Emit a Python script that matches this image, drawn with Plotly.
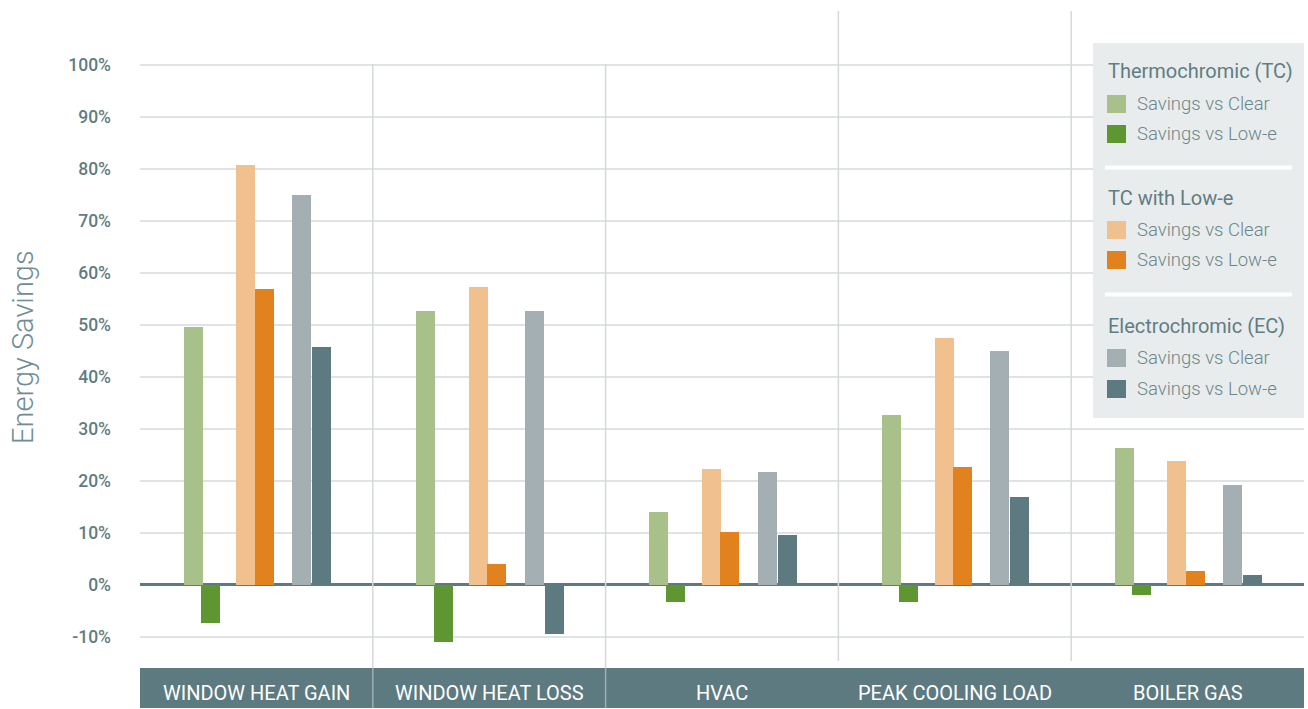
import plotly.graph_objects as go

# ---------------- data ----------------
categories = ["WINDOW HEAT GAIN", "WINDOW HEAT LOSS", "HVAC", "PEAK COOLING LOAD", "BOILER GAS"]

tc_vs_clear = [49.6, 52.6, 14.0, 32.7, 26.3]
tc_vs_lowe = [-7.3, -10.9, -3.3, -3.3, -1.9]
tcle_vs_clear = [80.7, 57.3, 22.3, 47.5, 23.8]
tcle_vs_lowe = [56.9, 4.0, 10.2, 22.7, 2.7]
ec_vs_clear = [74.9, 52.6, 21.7, 45.0, 19.2]
ec_vs_lowe = [45.7, -9.4, 9.6, 16.9, 1.9]

group_titles = ["Thermochromic (TC)", "TC with Low-e", "Electrochromic (EC)"]
item_names = ["Savings vs Clear", "Savings vs Low-e"]

tick_vals = [-10, 0, 10, 20, 30, 40, 50, 60, 70, 80, 90, 100]
tick_text = ["-10%", "0%", "10%", "20%", "30%", "40%", "50%", "60%", "70%", "80%", "90%", "100%"]

y_title = "Energy Savings"

# ---------------- styles ----------------
series = [
    (tc_vs_clear, "#a8c18b", -0.313),
    (tc_vs_lowe, "#5e9732", -0.239),
    (tcle_vs_clear, "#f0c18e", -0.087),
    (tcle_vs_lowe, "#e1821e", -0.008),
    (ec_vs_clear, "#a3afb3", 0.153),
    (ec_vs_lowe, "#5d7a80", 0.239),
]
BAR_W = 0.0816
FONT = "Roboto, 'Open Sans', sans-serif"
SLATE = "#5d7a80"
TEXT_DARK = "#5f7d83"
TEXT_LIGHT = "#6b878c"

W, H = 1308, 709
ML, MR, MT, MB = 140, 4, 11, 41
PW = W - ML - MR
PH = H - MT - MB


def px(x):
    return (x - ML) / PW


def py(y):
    return (H - MB - y) / PH


fig = go.Figure()
for vals, color, off in series:
    fig.add_trace(go.Bar(
        x=categories, y=vals, width=BAR_W, offset=off,
        marker=dict(color=color, line=dict(width=0)),
        showlegend=False,
    ))

shapes = []
# bottom category band
shapes.append(dict(type="rect", xref="paper", yref="paper", x0=0, x1=1,
                   y0=py(708), y1=0, fillcolor=SLATE, line=dict(width=0), layer="above"))
# category separators
for i, xb in enumerate([0.5, 1.5, 2.5, 3.5]):
    if i < 2:
        shapes.append(dict(type="line", xref="x", yref="paper", x0=xb, x1=xb,
                           y0=py(64), y1=0, line=dict(color="#d3d9db", width=1.5), layer="above"))
        shapes.append(dict(type="line", xref="x", yref="paper", x0=xb, x1=xb,
                           y0=0, y1=py(708), line=dict(color="#9fb0b3", width=1.5), layer="above"))
    else:
        shapes.append(dict(type="line", xref="x", yref="paper", x0=xb, x1=xb,
                           y0=py(661), y1=1, line=dict(color="#d3d9db", width=1.5), layer="above"))

# custom legend box
shapes.append(dict(type="rect", xref="paper", yref="paper", x0=px(1093), x1=px(1304),
                   y0=py(418), y1=py(43), fillcolor="#e9eced", line=dict(width=0), layer="above"))
for sy in [167.5, 294.5]:
    shapes.append(dict(type="line", xref="paper", yref="paper", x0=px(1105), x1=px(1292),
                       y0=py(sy), y1=py(sy), line=dict(color="white", width=4), layer="above"))

annotations = []
title_ys = [71, 198, 326]
item_ys = [[104, 134], [230, 260], [358, 389]]
for g, title in enumerate(group_titles):
    annotations.append(dict(xref="paper", yref="paper", x=px(1106), y=py(title_ys[g]),
                            text=title, showarrow=False, xanchor="left", yanchor="middle",
                            font=dict(family=FONT, size=20, color=TEXT_DARK, weight=400)))
    for k, name in enumerate(item_names):
        color = series[2 * g + k][1]
        yc = item_ys[g][k]
        shapes.append(dict(type="rect", xref="paper", yref="paper", x0=px(1107), x1=px(1126),
                           y0=py(yc + 9), y1=py(yc - 9), fillcolor=color, line=dict(width=0),
                           layer="above"))
        annotations.append(dict(xref="paper", yref="paper", x=px(1135), y=py(yc),
                                text=name, showarrow=False, xanchor="left", yanchor="middle",
                                font=dict(family=FONT, size=18.5, color=TEXT_LIGHT, weight=300)))

# category labels in band
for c in categories:
    annotations.append(dict(xref="x", yref="paper", x=c, y=py(693), text=c, showarrow=False,
                            xanchor="center", yanchor="middle",
                            font=dict(family=FONT, size=20, color="white", weight=400)))

# y axis title
annotations.append(dict(xref="paper", yref="paper", x=px(23), y=py(347), text=y_title,
                        showarrow=False, textangle=-90, xanchor="center", yanchor="middle",
                        font=dict(family=FONT, size=29, color="#6f8d92", weight=300)))

fig.update_layout(
    width=W, height=H,
    margin=dict(l=ML, r=MR, t=MT, b=MB, pad=0),
    paper_bgcolor="white", plot_bgcolor="white",
    barmode="overlay", bargap=0,
    shapes=shapes, annotations=annotations,
    showlegend=False,
    font=dict(family=FONT),
)
fig.update_xaxes(type="category", range=[-0.5, 4.5], showgrid=False, zeroline=False,
                 showticklabels=False, showline=False, ticks="")
fig.update_yaxes(range=[-15.96, 110.3], tickvals=tick_vals, ticktext=tick_text,
                 showgrid=True, gridcolor="#dfe3e4", gridwidth=2,
                 zeroline=True, zerolinecolor=SLATE, zerolinewidth=3,
                 showline=False, ticks="", ticklabelstandoff=28,
                 tickfont=dict(family=FONT, size=17.5, color=TEXT_DARK, weight=500))

fig.write_html("out.html")
